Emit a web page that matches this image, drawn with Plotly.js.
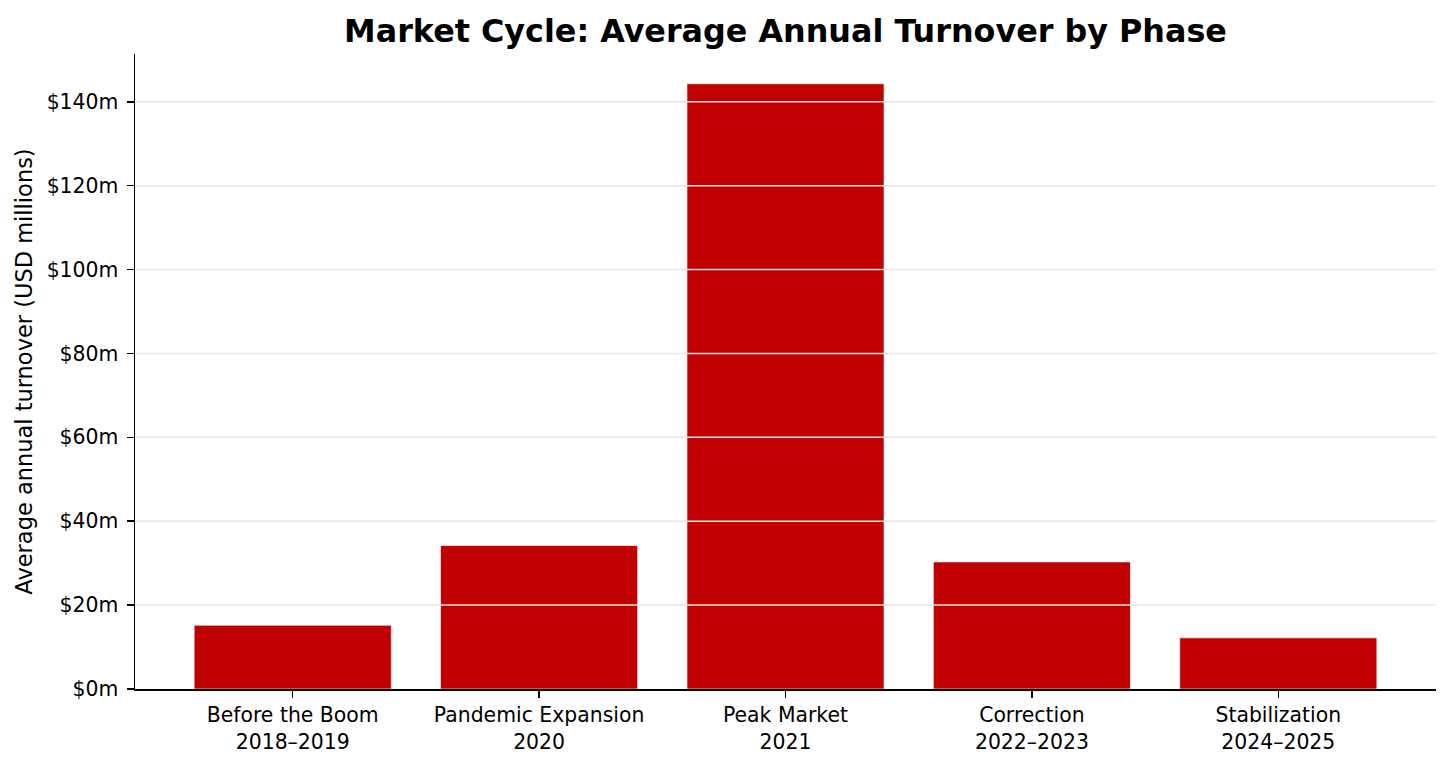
<!DOCTYPE html>
<html lang="en">
    <head>
        <meta charset="UTF-8" />
        <script src="https://cdn.plot.ly/plotly-3.0.1.min.js"></script>
        <title>Market Cycle</title>
        <style>
            body { margin: 0; background: #fff; }
            #chart { width: 1452px; height: 766px; }
        </style>
    </head>
    <body>
        <div id="chart"></div>
    </body>
    <script>
        // Phases and their average turnover (USD millions)
        const phases = ["Before the Boom", "Pandemic Expansion", "Peak Market", "Correction", "Stabilization"];
        const periods = ["2018–2019", "2020", "2021", "2022–2023", "2024–2025"];
        const turnover = [15.2, 34.2, 144.3, 30.3, 12.2];

        // y axis ticks
        const yTicks = [0, 20, 40, 60, 80, 100, 120, 140];
        const yTickText = yTicks.map((v) => "$" + v + "m");

        const labels = phases.map((p, i) => p + "<br>" + periods[i]);

        const data = [
            {
                type: "bar",
                x: labels,
                y: turnover,
                marker: { color: "#c00000", line: { color: "rgba(255,255,255,0.8)", width: 0.8 } },
                hoverinfo: "x+y",
            },
        ];

        // grid lines sit above the bars in the original
        const grid = yTicks.slice(1).map((v) => ({
            type: "line",
            xref: "paper",
            yref: "y",
            x0: 0,
            x1: 1,
            y0: v,
            y1: v,
            layer: "above",
            line: { color: "#e6e6e6", width: 1.5 },
        }));

        const font = "DejaVu Sans, sans-serif";
        const tickSize = 20.4;

        const layout = {
            width: 1452,
            height: 766,
            margin: { l: 135, r: 16, t: 54, b: 77 },
            paper_bgcolor: "#fff",
            plot_bgcolor: "#fff",
            font: { family: font, size: tickSize, color: "#000" },
            showlegend: false,
            bargap: 0.2,
            title: {
                text: "<b>Market Cycle: Average Annual Turnover by Phase</b>",
                font: { family: font, size: 31.8, color: "#000" },
                x: 0.5,
                xref: "paper",
                y: 0.96,
                yref: "container",
                yanchor: "middle",
            },
            xaxis: {
                type: "category",
                range: [-0.64, 4.64],
                showline: true,
                linecolor: "#000",
                linewidth: 1.5,
                ticks: "outside",
                ticklen: 7,
                tickwidth: 1.5,
                tickcolor: "#000",
                showgrid: false,
                zeroline: false,
                tickfont: { family: font, size: tickSize, color: "#000" },
            },
            yaxis: {
                range: [0, 151.4],
                tickvals: yTicks,
                ticktext: yTickText,
                showline: true,
                linecolor: "#000",
                linewidth: 1.5,
                ticks: "outside",
                ticklen: 7,
                tickwidth: 1.5,
                tickcolor: "#000",
                ticklabelstandoff: 4,
                showgrid: false,
                zeroline: false,
                tickfont: { family: font, size: tickSize, color: "#000" },
                title: {
                    text: "Average annual turnover (USD millions)",
                    font: { family: font, size: 22.5, color: "#000" },
                    standoff: 8,
                },
            },
            shapes: grid,
        };

        Plotly.newPlot("chart", data, layout, { displayModeBar: false, staticPlot: true });
    </script>
</html>
